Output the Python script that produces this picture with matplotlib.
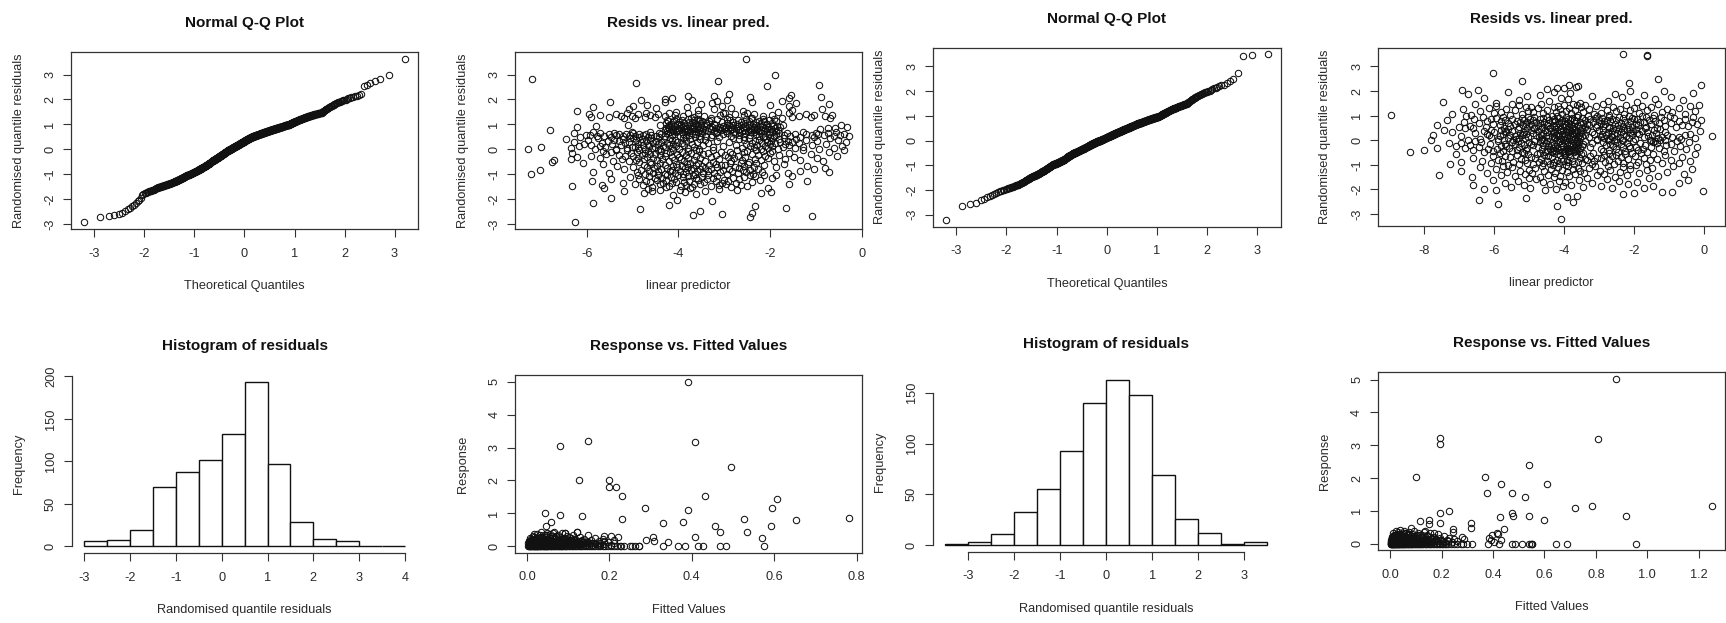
import matplotlib
matplotlib.use("Agg")
import matplotlib.pyplot as plt
from statistics import NormalDist

plt.rcParams['font.family'] = ['Liberation Sans', 'DejaVu Sans']
plt.rcParams['axes.unicode_minus'] = False

# ---------------------------------------------------------------- model A
# randomised quantile residuals (ordered by histogram class) and the matching linear predictor
resid_a = [
    # (-3, -2.5]
    -2.93, -2.70, -2.67, -2.63, -2.59, -2.54,
    # (-2.5, -2]
    -2.46, -2.41, -2.35, -2.28, -2.22, -2.16, -2.09, -2.03,
    # (-2, -1.5]
    -1.96, -1.84, -1.78, -1.75, -1.73, -1.71, -1.70, -1.68, -1.67, -1.65,
    -1.64, -1.62, -1.61, -1.59, -1.58, -1.56, -1.55, -1.53, -1.52,
    # (-1.5, -1]
    -1.50, -1.49, -1.49, -1.48, -1.47, -1.46, -1.46, -1.45, -1.44, -1.43,
    -1.43, -1.42, -1.41, -1.40, -1.40, -1.39, -1.38, -1.37, -1.37, -1.36,
    -1.35, -1.34, -1.34, -1.33, -1.32, -1.31, -1.31, -1.30, -1.29, -1.28,
    -1.28, -1.27, -1.26, -1.25, -1.25, -1.24, -1.23, -1.22, -1.22, -1.21,
    -1.20, -1.19, -1.19, -1.18, -1.17, -1.16, -1.16, -1.15, -1.14, -1.13,
    -1.13, -1.12, -1.11, -1.10, -1.10, -1.09, -1.08, -1.07, -1.07, -1.06,
    -1.05, -1.04, -1.04, -1.03, -1.03, -1.02, -1.02, -1.02, -1.01, -1.01,
    # (-1, -0.5]
    -1.00, -0.99, -0.99, -0.98, -0.98, -0.97, -0.97, -0.96, -0.96, -0.95,
    -0.94, -0.94, -0.93, -0.93, -0.92, -0.92, -0.91, -0.91, -0.90, -0.89,
    -0.89, -0.88, -0.88, -0.87, -0.87, -0.86, -0.86, -0.85, -0.85, -0.84,
    -0.83, -0.83, -0.82, -0.82, -0.81, -0.81, -0.80, -0.80, -0.79, -0.78,
    -0.78, -0.77, -0.77, -0.76, -0.76, -0.75, -0.75, -0.74, -0.74, -0.73,
    -0.72, -0.72, -0.71, -0.71, -0.70, -0.70, -0.69, -0.69, -0.68, -0.67,
    -0.67, -0.66, -0.66, -0.65, -0.65, -0.64, -0.64, -0.63, -0.63, -0.62,
    -0.61, -0.61, -0.60, -0.60, -0.59, -0.59, -0.58, -0.58, -0.57, -0.56,
    -0.56, -0.55, -0.55, -0.54, -0.53, -0.53, -0.52, -0.51,
    # (-0.5, 0]
    -0.50, -0.49, -0.49, -0.48, -0.48, -0.47, -0.47, -0.46, -0.46, -0.45,
    -0.45, -0.44, -0.44, -0.43, -0.43, -0.42, -0.42, -0.41, -0.41, -0.40,
    -0.40, -0.39, -0.39, -0.38, -0.38, -0.37, -0.37, -0.36, -0.36, -0.35,
    -0.35, -0.34, -0.34, -0.33, -0.33, -0.32, -0.32, -0.31, -0.31, -0.30,
    -0.30, -0.29, -0.29, -0.28, -0.28, -0.27, -0.27, -0.26, -0.26, -0.25,
    -0.25, -0.24, -0.24, -0.23, -0.23, -0.22, -0.22, -0.21, -0.21, -0.20,
    -0.20, -0.19, -0.19, -0.18, -0.18, -0.17, -0.17, -0.16, -0.16, -0.15,
    -0.15, -0.14, -0.14, -0.13, -0.13, -0.12, -0.12, -0.11, -0.11, -0.10,
    -0.10, -0.09, -0.09, -0.08, -0.08, -0.07, -0.07, -0.06, -0.06, -0.05,
    -0.05, -0.04, -0.04, -0.03, -0.03, -0.02, -0.02, -0.01, -0.01, -0.01,
    -0.01, -0.01,
    # (0, 0.5]
    0.00, 0.00, 0.01, 0.01, 0.01, 0.02, 0.02, 0.03, 0.03, 0.03,
    0.04, 0.04, 0.05, 0.05, 0.05, 0.06, 0.06, 0.06, 0.07, 0.07,
    0.08, 0.08, 0.08, 0.09, 0.09, 0.10, 0.10, 0.10, 0.11, 0.11,
    0.11, 0.12, 0.12, 0.13, 0.13, 0.13, 0.14, 0.14, 0.15, 0.15,
    0.15, 0.16, 0.16, 0.16, 0.17, 0.17, 0.18, 0.18, 0.18, 0.19,
    0.19, 0.19, 0.20, 0.20, 0.21, 0.21, 0.21, 0.22, 0.22, 0.23,
    0.23, 0.23, 0.24, 0.24, 0.24, 0.25, 0.25, 0.26, 0.26, 0.26,
    0.27, 0.27, 0.28, 0.28, 0.28, 0.29, 0.29, 0.29, 0.30, 0.30,
    0.31, 0.31, 0.31, 0.32, 0.32, 0.32, 0.33, 0.33, 0.34, 0.34,
    0.34, 0.35, 0.35, 0.36, 0.36, 0.36, 0.37, 0.37, 0.37, 0.38,
    0.38, 0.39, 0.39, 0.39, 0.40, 0.40, 0.41, 0.41, 0.41, 0.42,
    0.42, 0.42, 0.43, 0.43, 0.44, 0.44, 0.44, 0.45, 0.45, 0.46,
    0.46, 0.46, 0.47, 0.47, 0.47, 0.48, 0.48, 0.49, 0.49, 0.49,
    0.49, 0.49,
    # (0.5, 1]
    0.50, 0.50, 0.50, 0.51, 0.51, 0.51, 0.51, 0.52, 0.52, 0.52,
    0.52, 0.53, 0.53, 0.53, 0.53, 0.54, 0.54, 0.54, 0.54, 0.55,
    0.55, 0.55, 0.55, 0.56, 0.56, 0.56, 0.56, 0.57, 0.57, 0.57,
    0.57, 0.58, 0.58, 0.58, 0.58, 0.59, 0.59, 0.59, 0.59, 0.60,
    0.60, 0.60, 0.60, 0.61, 0.61, 0.61, 0.61, 0.62, 0.62, 0.62,
    0.62, 0.63, 0.63, 0.63, 0.63, 0.64, 0.64, 0.64, 0.64, 0.65,
    0.65, 0.65, 0.65, 0.66, 0.66, 0.66, 0.66, 0.67, 0.67, 0.67,
    0.67, 0.68, 0.68, 0.68, 0.68, 0.69, 0.69, 0.69, 0.69, 0.70,
    0.70, 0.70, 0.70, 0.71, 0.71, 0.71, 0.71, 0.72, 0.72, 0.72,
    0.72, 0.73, 0.73, 0.73, 0.73, 0.74, 0.74, 0.74, 0.74, 0.75,
    0.75, 0.75, 0.75, 0.76, 0.76, 0.76, 0.76, 0.77, 0.77, 0.77,
    0.77, 0.78, 0.78, 0.78, 0.78, 0.79, 0.79, 0.79, 0.79, 0.80,
    0.80, 0.80, 0.80, 0.81, 0.81, 0.81, 0.81, 0.82, 0.82, 0.82,
    0.82, 0.83, 0.83, 0.83, 0.83, 0.84, 0.84, 0.84, 0.84, 0.85,
    0.85, 0.85, 0.85, 0.86, 0.86, 0.86, 0.86, 0.87, 0.87, 0.87,
    0.87, 0.88, 0.88, 0.88, 0.88, 0.89, 0.89, 0.89, 0.89, 0.90,
    0.90, 0.90, 0.90, 0.91, 0.91, 0.91, 0.92, 0.92, 0.92, 0.93,
    0.93, 0.93, 0.94, 0.94, 0.94, 0.95, 0.95, 0.95, 0.96, 0.96,
    0.96, 0.97, 0.97, 0.97, 0.98, 0.98, 0.98, 0.99, 0.99, 0.99,
    0.99, 0.99, 0.99, 0.99,
    # (1, 1.5]
    1.00, 1.00, 1.01, 1.01, 1.02, 1.02, 1.03, 1.03, 1.04, 1.04,
    1.05, 1.05, 1.06, 1.06, 1.07, 1.07, 1.08, 1.08, 1.09, 1.09,
    1.10, 1.10, 1.11, 1.11, 1.12, 1.12, 1.13, 1.13, 1.14, 1.14,
    1.15, 1.15, 1.16, 1.16, 1.17, 1.17, 1.18, 1.18, 1.19, 1.19,
    1.20, 1.20, 1.21, 1.21, 1.22, 1.22, 1.23, 1.23, 1.24, 1.24,
    1.25, 1.25, 1.26, 1.26, 1.27, 1.27, 1.28, 1.28, 1.29, 1.29,
    1.30, 1.30, 1.31, 1.31, 1.32, 1.32, 1.33, 1.33, 1.34, 1.34,
    1.35, 1.35, 1.36, 1.36, 1.37, 1.37, 1.38, 1.38, 1.39, 1.39,
    1.40, 1.40, 1.41, 1.41, 1.42, 1.42, 1.43, 1.43, 1.44, 1.44,
    1.45, 1.45, 1.46, 1.46, 1.47, 1.47, 1.48,
    # (1.5, 2]
    1.51, 1.53, 1.54, 1.56, 1.58, 1.60, 1.61, 1.63, 1.65, 1.67,
    1.68, 1.70, 1.72, 1.74, 1.75, 1.77, 1.79, 1.81, 1.82, 1.84,
    1.86, 1.88, 1.89, 1.91, 1.93, 1.94, 1.96, 1.97, 1.99,
    # (2, 2.5]
    2.01, 2.04, 2.06, 2.08, 2.10, 2.12, 2.14, 2.17, 2.21,
    # (2.5, 3]
    2.54, 2.59, 2.66, 2.74, 2.82, 2.99,
    # (3.5, 4]
    3.64,
]

linpred_a = [
    -6.25, -2.43, -1.09, -3.68, -3.04, -2.40,
    -3.52, -4.83, -1.65, -2.33, -4.21, -5.87, -3.27, -4.02,
    -5.46, -4.12, -3.61, -2.19, -4.74, -3.85, -1.98, -4.58, -5.18, -3.43,
    -2.72, -4.40, -3.96, -3.12, -4.66, -2.05, -3.75, -5.63, -4.26,
    -3.71, -4.58, -2.86, -6.32, -3.95, -4.21, -2.51, -3.30, -4.77, -3.12,
    -5.66, -3.84, -2.63, -4.41, -3.54, -4.95, -2.97, -1.58, -3.66, -4.13,
    -4.33, -2.74, -3.05, -5.21, -3.88, -4.62, -2.40, -3.44, -4.05, -1.20,
    -3.19, -4.70, -2.92, -5.89, -3.77, -4.47, -2.22, -3.58, -4.27, -3.01,
    -2.69, -4.85, -3.38, -5.47, -4.10, -3.62, -1.97, -4.52, -3.25, -2.80,
    -4.36, -3.90, -2.57, -5.05, -3.48, -4.17, -1.52, -3.80, -4.65, -2.33,
    -3.15, -4.01, -2.45, -4.88, -3.69, -2.14, -4.44, -3.35, -1.88, -4.25,
    -3.64, -4.72, -2.38, -7.21, -3.91, -2.95, -4.30, -5.52, -3.22, -1.62,
    -4.08, -2.71, -3.47, -4.56, -0.72, -3.83, -2.52, -4.90, -3.10, -5.85,
    -2.18, -4.19, -3.59, -2.83, -4.63, -3.36, -1.35, -3.97, -4.44, -2.60,
    -7.02, -3.73, -2.44, -4.14, -3.02, -4.81, -2.26, -3.54, -1.05, -4.37,
    -3.28, -5.18, -2.90, -3.86, -4.53, -2.67, -3.42, -0.80, -4.24, -3.69,
    -2.35, -4.98, -3.15, -4.02, -1.88, -3.79, -4.68, -2.76, -5.33, -3.49,
    -4.11, -2.58, -3.93, -1.20, -4.47, -3.07, -2.99, -4.76, -3.61, -2.13,
    -4.29, -3.33, -5.64, -2.49, -3.81, -4.59, -1.71, -3.18, -4.05, -2.88,
    -3.57, -4.40, -2.31, -6.08, -3.75, -2.64, -4.86, -3.24,
    -4.62, -2.47, -6.75, -3.88, -5.08, -1.92, -4.21, -2.85, -0.85, -3.41,
    -5.43, -4.47, -2.19, -3.66, -6.70, -4.93, -2.62, -1.35, -4.09, -3.12,
    -5.22, -2.33, -4.74, -3.95, -1.68, -6.35, -4.35, -2.78, -3.52, -0.98,
    -4.56, -2.05, -5.71, -3.79, -4.87, -2.92, -1.49, -4.15, -3.28, -6.20,
    -2.54, -4.68, -3.99, -5.16, -2.11, -4.30, -0.55, -3.61, -4.99, -2.70,
    -5.90, -4.41, -3.17, -2.26, -4.80, -1.80, -3.84, -5.30, -2.98, -4.52,
    -1.12, -4.02, -2.40, -5.58, -3.46, -4.61, -2.84, -6.32, -3.72, -4.26,
    -2.01, -5.03, -3.35, -1.60, -4.72, -2.57, -3.93, -5.47, -4.18, -2.88,
    -3.08, -4.90, -0.72, -4.38, -2.16, -5.64, -3.55, -1.95, -4.66, -2.50,
    -3.80, -5.12, -1.28, -4.44, -2.73, -3.24, -4.85, -2.30, -0.40, -5.36,
    -3.62, -4.11,
    -4.72, -1.84, -5.35, -3.98, -7.28, -2.21, -4.40, -0.93, -5.81, -3.55,
    -2.05, -4.58, -1.46, -6.34, -4.15, -2.62, -5.12, -3.79, -0.61, -4.87,
    -1.73, -4.29, -5.59, -3.24, -2.36, -4.95, -7.00, -1.29, -4.51, -3.66,
    -5.02, -2.12, -4.06, -0.44, -5.71, -1.95, -4.63, -3.02, -6.17, -2.44,
    -4.34, -1.58, -5.26, -3.88, -2.29, -4.78, -1.10, -4.20, -5.90, -2.75,
    -3.47, -4.67, -1.67, -5.45, -2.01, -4.11, -0.78, -4.89, -3.71, -2.53,
    -6.05, -4.45, -1.89, -3.35, -5.17, -2.17, -4.55, -1.38, -3.93, -5.66,
    -2.40, -4.25, -0.35, -4.82, -1.78, -3.60, -5.08, -2.06, -4.38, -6.28,
    -1.52, -4.02, -2.90, -5.53, -4.70, -1.99, -3.15, -0.99, -4.48, -2.33,
    -5.29, -3.83, -1.62, -4.93, -2.58, -4.13, -5.98, -1.21, -3.42, -4.61,
    -2.25, -5.40, -0.52, -4.08, -1.81, -3.74, -4.80, -2.68, -5.20, -1.44,
    -4.32, -2.10, -6.45, -3.52, -4.99, -1.93, -0.70, -4.18, -2.82, -5.75,
    -3.90, -1.70, -4.60, -2.47, -5.05, -3.28, -1.05, -4.43, -2.15, -3.63,
    -4.85, -2.00,
    -5.47, -3.12, -1.35, -4.66, -2.58, -6.15, -3.84, -0.62, -4.94, -2.24,
    -3.55, -5.78, -1.92, -4.30, -0.29, -2.86, -5.21, -3.97, -1.56, -4.48,
    -2.12, -5.62, -3.40, -0.83, -4.77, -2.67, -6.02, -1.71, -3.76, -5.05,
    -1.08, -4.15, -2.43, -5.35, -3.26, -0.48, -4.59, -1.88, -5.93, -3.03,
    -4.38, -2.31, -1.22, -5.14, -3.63, -0.95, -4.85, -2.02, -5.52, -3.89,
    -1.47, -4.70, -2.77, -0.40, -5.29, -3.48, -1.64, -4.23, -6.28, -2.54,
    -3.71, -1.01, -4.99, -2.19, -5.70, -3.18, -0.75, -4.43, -1.80, -5.41,
    -2.95, -4.06, -0.56, -5.87, -2.36, -3.81, -1.29, -4.62, -2.69, -5.01,
    -3.92, -2.41, -3.15, -4.18, -2.03, -3.57, -2.79, -4.06, -2.25, -3.36,
    -1.87, -3.74, -2.62, -4.25, -2.96, -3.49, -2.14, -3.86, -1.95, -3.22,
    -4.11, -2.49, -3.63, -2.88, -4.02, -2.31, -3.41, -6.80, -2.70, -3.98,
    -2.19, -3.54, -4.30, -2.57, -3.07, -1.83, -3.79, -2.45, -4.14, -3.29,
    -2.08, -3.69, -0.91, -2.83, -4.21, -3.12, -2.36, -3.88, -1.99, -3.46,
    -2.66, -4.08, -3.01, -2.28, -3.60, -0.75, -2.92, -3.95, -2.12, -3.33,
    -4.27, -2.52, -3.71, -1.90, -3.18, -2.74, -4.00, -0.58, -2.42, -3.52,
    -3.83, -2.16, -6.20, -3.26, -2.60, -4.16, -1.78, -3.66, -2.97, -0.33,
    -3.10, -2.35, -3.91, -2.04, -4.23, -2.86, -3.44, -5.80, -2.55, -3.75,
    -1.94, -3.58, -2.71, -4.10, -3.03, -2.22, -3.85, -1.85, -3.38, -2.64,
    -4.20, -2.90, -3.68, -2.10, -3.95, -2.47, -3.21, -1.72, -5.10, -4.40,
    -0.46, -2.30, -3.50, -2.80,
    -3.95, -2.38, -3.22, -4.17, -2.06, -3.61, -2.73, -4.04, -3.40, -2.21,
    -3.87, -2.55, -4.28, -2.94, -3.50, -1.96, -3.77, -2.63, -4.12, -3.06,
    -2.30, -3.70, -2.82, -3.99, -2.13, -3.33, -4.22, -2.47, -3.56, -1.88,
    -3.48, -2.25, -4.10, -2.88, -3.66, -2.02, -3.92, -2.70, -3.30, -4.25,
    -2.52, -3.80, -2.16, -3.58, -4.05, -2.95, -3.15, -1.92, -3.72, -2.40,
    -1.75, -3.28, -4.95, -0.70, -5.18, -2.41, -4.50, -1.12, -3.66, -5.90,
    -2.90, -4.73, -1.53, -5.52, -3.45, -0.80, -4.30, -2.15, -5.00, -1.38,
    -3.90, -5.25, -2.58, -4.62, -1.05, -5.70, -3.10, -4.08, -1.95, -0.66,
    -4.88, -2.77, -5.36, -3.58, -1.22, -4.45, -2.35, -5.95, -3.02, -4.20,
    -1.60, -5.12, -2.98, -3.80, -4.70, -2.50, -1.83,
    -4.06, -6.20, -2.59, -3.57, -1.53, -5.08, -3.23, -0.87, -4.48, -2.85,
    -5.87, -3.82, -1.60, -4.98, -3.06, -2.00, -4.68, -3.50, -0.72, -3.27,
    -1.44, -5.50, -2.40, -4.30, -3.15, -1.75, -3.70, -4.82, -2.95,
    -4.30, -1.60, -4.15, -2.45, -0.90, -3.78, -3.22, -1.55, -2.90,
    -2.07, -0.94, -4.92, -3.13, -7.19, -1.89,
    -2.53,
]

hist_breaks_a = [-3.0, -2.5, -2.0, -1.5, -1.0, -0.5, 0.0, 0.5, 1.0, 1.5, 2.0, 2.5, 3.0, 3.5, 4.0]

fitted_a = [
    0.391, 0.079, 0.149, 0.407, 0.494, 0.125, 0.198, 0.198, 0.217, 0.231,
    0.431, 0.607, 0.595, 0.286, 0.391, 0.043, 0.081, 0.133, 0.231, 0.526,
    0.652, 0.782, 0.057, 0.046, 0.330, 0.379, 0.457, 0.468, 0.534, 0.593,
    0.571, 0.407, 0.305, 0.309, 0.288, 0.342, 0.122, 0.186, 0.204, 0.221,
    0.212, 0.092,
    0.002, 0.004, 0.005, 0.007, 0.008, 0.010, 0.011, 0.013, 0.014, 0.016,
    0.017, 0.019, 0.020, 0.022, 0.024, 0.025, 0.027, 0.029, 0.031, 0.032,
    0.034, 0.036, 0.038, 0.040, 0.042, 0.044, 0.046, 0.048, 0.050, 0.052,
    0.055, 0.057, 0.059, 0.062, 0.064, 0.067, 0.069, 0.072, 0.074, 0.077,
    0.080, 0.083, 0.086, 0.089, 0.092, 0.095, 0.098, 0.101, 0.105, 0.108,
    0.112, 0.116, 0.120, 0.124, 0.128, 0.132, 0.137, 0.141, 0.146, 0.151,
    0.156, 0.161, 0.166, 0.172, 0.178, 0.184, 0.190, 0.196, 0.203, 0.210,
    0.218, 0.226, 0.229, 0.236, 0.250, 0.255, 0.262, 0.271, 0.273, 0.330,
    0.366, 0.383, 0.414, 0.426, 0.468, 0.483, 0.576,
    0.005, 0.008, 0.010, 0.012, 0.015, 0.017, 0.019, 0.021, 0.023, 0.025,
    0.027, 0.029, 0.031, 0.033, 0.035, 0.036, 0.038, 0.040, 0.042, 0.044,
    0.046, 0.048, 0.050, 0.052, 0.055, 0.057, 0.059, 0.061, 0.064, 0.066,
    0.068, 0.070, 0.073, 0.075, 0.077, 0.080, 0.082, 0.085, 0.087, 0.090,
    0.092, 0.095, 0.098, 0.100, 0.103, 0.106, 0.109, 0.112, 0.115, 0.118,
    0.122, 0.125, 0.128, 0.132, 0.135, 0.139, 0.143, 0.147, 0.151, 0.155,
    0.160, 0.164, 0.169, 0.174, 0.178, 0.184, 0.190, 0.196, 0.203, 0.210,
    0.006, 0.009, 0.013, 0.016, 0.018, 0.020, 0.024, 0.028, 0.030, 0.034,
    0.037, 0.041, 0.045, 0.049, 0.053, 0.056, 0.060, 0.063, 0.067, 0.071,
    0.076, 0.079, 0.084, 0.088, 0.093, 0.097, 0.102, 0.108, 0.113, 0.119,
    0.126, 0.133, 0.141, 0.148, 0.157, 0.166, 0.176, 0.186,
    0.003, 0.006, 0.008, 0.011, 0.013, 0.015, 0.018, 0.020, 0.022, 0.024,
    0.026, 0.028, 0.030, 0.032, 0.034, 0.037, 0.039, 0.041, 0.043, 0.045,
    0.047, 0.049, 0.051, 0.054, 0.056, 0.058, 0.060, 0.063, 0.065, 0.068,
    0.070, 0.072, 0.075, 0.078, 0.081, 0.083, 0.086, 0.089, 0.091, 0.094,
    0.097, 0.100, 0.104, 0.107, 0.111, 0.114, 0.118, 0.121, 0.125, 0.129,
    0.004, 0.007, 0.010, 0.012, 0.014, 0.017, 0.019, 0.022, 0.025, 0.028,
    0.031, 0.033, 0.036, 0.039, 0.042, 0.044, 0.047, 0.050, 0.053, 0.056,
    0.059, 0.062, 0.066, 0.069, 0.073, 0.076, 0.080, 0.084, 0.088, 0.092,
    0.096, 0.101, 0.106, 0.111, 0.117, 0.123, 0.130, 0.137, 0.144, 0.152,
    0.009, 0.016, 0.023, 0.031, 0.038, 0.046, 0.054, 0.064, 0.074, 0.085,
]

response_a = [
    5.01, 3.04, 3.21, 3.18, 2.41, 2.02, 2.02, 1.80, 1.80, 1.54,
    1.54, 1.42, 1.15, 1.15, 1.10, 1.00, 0.95, 0.92, 0.83, 0.83,
    0.81, 0.87, 0.73, 0.60, 0.70, 0.74, 0.62, 0.43, 0.43, 0.61,
    0.26, 0.27, 0.29, 0.17, 0.19, 0.14, 0.44, 0.31, 0.31, 0.29,
    0.19, 0.39,
    0, 0, 0, 0, 0, 0, 0, 0, 0, 0,
    0, 0, 0, 0, 0, 0, 0, 0, 0, 0,
    0, 0, 0, 0, 0, 0, 0, 0, 0, 0,
    0, 0, 0, 0, 0, 0, 0, 0, 0, 0,
    0, 0, 0, 0, 0, 0, 0, 0, 0, 0,
    0, 0, 0, 0, 0, 0, 0, 0, 0, 0,
    0, 0, 0, 0, 0, 0, 0, 0, 0, 0,
    0, 0, 0, 0, 0, 0, 0, 0, 0, 0,
    0, 0, 0, 0, 0, 0, 0,
    0.05, 0.12, 0.22, 0.08, 0.30, 0.15, 0.04, 0.26, 0.10, 0.38,
    0.18, 0.06, 0.33, 0.13, 0.44, 0.24, 0.09, 0.35, 0.16, 0.05,
    0.28, 0.41, 0.11, 0.21, 0.36, 0.07, 0.17, 0.30, 0.12, 0.43,
    0.25, 0.04, 0.19, 0.34, 0.09, 0.27, 0.14, 0.40, 0.06, 0.22,
    0.39, 0.11, 0.31, 0.17, 0.05, 0.25, 0.13, 0.35, 0.08, 0.20,
    0.44, 0.10, 0.28, 0.15, 0.06, 0.23, 0.12, 0.33, 0.07, 0.19,
    0.10, 0.26, 0.05, 0.15, 0.09, 0.22, 0.06, 0.12, 0.04, 0.08,
    0.17, 0.03, 0.19, 0.36, 0.11, 0.07, 0.21, 0.14, 0.02, 0.29,
    0.03, 0.20, 0.13, 0.33, 0.03, 0.24, 0.14, 0.39, 0.08, 0.31,
    0.16, 0.03, 0.21, 0.12, 0.07, 0.16, 0.27, 0.03, 0.18, 0.12,
    0.04, 0.20, 0.08, 0.14, 0.03, 0.11, 0.04, 0.15,
    0.09, 0.16, 0.25, 0.06, 0.19, 0.12, 0.28, 0.03, 0.21, 0.14,
    0.07, 0.24, 0.11, 0.18, 0.29, 0.05, 0.15, 0.23, 0.09, 0.33,
    0.13, 0.20, 0.06, 0.27, 0.10, 0.17, 0.24, 0.04, 0.14, 0.21,
    0.30, 0.08, 0.16, 0.12, 0.23, 0.05, 0.18, 0.10, 0.26, 0.14,
    0.07, 0.20, 0.11, 0.16, 0.04, 0.22, 0.09, 0.13, 0.06, 0.10,
    0.03, 0.08, 0.14, 0.19, 0.04, 0.10, 0.22, 0.13, 0.07, 0.18,
    0.25, 0.10, 0.05, 0.15, 0.20, 0.08, 0.12, 0.17, 0.04, 0.11,
    0.19, 0.07, 0.14, 0.23, 0.09, 0.05, 0.16, 0.11, 0.20, 0.06,
    0.13, 0.09, 0.18, 0.05, 0.11, 0.15, 0.07, 0.12, 0.04, 0.09,
    0.02, 0.03, 0.01, 0.02, 0.03, 0.01, 0.02, 0.03, 0.02, 0.01,
]

# ---------------------------------------------------------------- model B
resid_b = [
    # (-3.5, -3]
    -3.22,
    # (-3, -2.5]
    -2.66, -2.58, -2.53,
    # (-2.5, -2]
    -2.42, -2.36, -2.30, -2.25, -2.20, -2.16, -2.12, -2.09, -2.06, -2.04, -2.01,
    # (-2, -1.5]
    -1.99, -1.97, -1.96, -1.94, -1.93, -1.91, -1.90, -1.88, -1.87, -1.85,
    -1.84, -1.82, -1.81, -1.79, -1.78, -1.76, -1.75, -1.73, -1.72, -1.70,
    -1.69, -1.67, -1.66, -1.64, -1.63, -1.61, -1.60, -1.58, -1.57, -1.55,
    -1.54, -1.52, -1.51,
    # (-1.5, -1]
    -1.50, -1.49, -1.48, -1.47, -1.46, -1.45, -1.44, -1.43, -1.43, -1.42,
    -1.41, -1.40, -1.39, -1.38, -1.37, -1.36, -1.35, -1.34, -1.34, -1.33,
    -1.32, -1.31, -1.30, -1.29, -1.28, -1.27, -1.26, -1.25, -1.25, -1.24,
    -1.23, -1.22, -1.21, -1.20, -1.19, -1.18, -1.17, -1.16, -1.16, -1.15,
    -1.14, -1.13, -1.12, -1.11, -1.10, -1.09, -1.08, -1.07, -1.07, -1.06,
    -1.05, -1.04, -1.03, -1.02, -1.01,
    # (-1, -0.5]
    -1.00, -0.99, -0.99, -0.98, -0.98, -0.97, -0.97, -0.96, -0.96, -0.95,
    -0.95, -0.94, -0.94, -0.93, -0.93, -0.92, -0.92, -0.91, -0.91, -0.90,
    -0.90, -0.89, -0.89, -0.88, -0.88, -0.87, -0.87, -0.86, -0.86, -0.85,
    -0.85, -0.84, -0.84, -0.83, -0.83, -0.82, -0.82, -0.81, -0.81, -0.80,
    -0.80, -0.79, -0.79, -0.78, -0.78, -0.77, -0.77, -0.76, -0.75, -0.74,
    -0.74, -0.73, -0.72, -0.72, -0.71, -0.70, -0.70, -0.69, -0.68, -0.68,
    -0.67, -0.66, -0.66, -0.65, -0.64, -0.64, -0.63, -0.62, -0.62, -0.61,
    -0.61, -0.60, -0.60, -0.59, -0.59, -0.58, -0.58, -0.57, -0.57, -0.56,
    -0.56, -0.55, -0.55, -0.54, -0.54, -0.53, -0.53, -0.52, -0.52, -0.51,
    -0.51, -0.51, -0.51,
    # (-0.5, 0]
    -0.50, -0.50, -0.49, -0.49, -0.49, -0.48, -0.48, -0.48, -0.47, -0.47,
    -0.46, -0.46, -0.46, -0.45, -0.45, -0.45, -0.44, -0.44, -0.43, -0.43,
    -0.43, -0.42, -0.42, -0.42, -0.41, -0.41, -0.40, -0.40, -0.40, -0.39,
    -0.39, -0.39, -0.38, -0.38, -0.37, -0.37, -0.37, -0.36, -0.36, -0.36,
    -0.35, -0.35, -0.34, -0.34, -0.34, -0.33, -0.33, -0.33, -0.32, -0.32,
    -0.31, -0.31, -0.31, -0.30, -0.30, -0.30, -0.29, -0.29, -0.28, -0.28,
    -0.28, -0.27, -0.27, -0.27, -0.26, -0.26, -0.25, -0.25, -0.25, -0.24,
    -0.24, -0.24, -0.23, -0.23, -0.22, -0.22, -0.22, -0.21, -0.21, -0.21,
    -0.20, -0.20, -0.19, -0.19, -0.19, -0.18, -0.18, -0.18, -0.17, -0.17,
    -0.16, -0.16, -0.16, -0.15, -0.15, -0.15, -0.14, -0.14, -0.13, -0.13,
    -0.13, -0.12, -0.12, -0.12, -0.11, -0.11, -0.10, -0.10, -0.10, -0.09,
    -0.09, -0.09, -0.08, -0.08, -0.07, -0.07, -0.07, -0.06, -0.06, -0.06,
    -0.05, -0.05, -0.04, -0.04, -0.04, -0.03, -0.03, -0.03, -0.02, -0.02,
    -0.02, -0.02, -0.01, -0.01, -0.01, -0.01, -0.01, -0.01, -0.01, -0.01,
    # (0, 0.5]
    0.00, 0.00, 0.00, 0.01, 0.01, 0.01, 0.02, 0.02, 0.02, 0.03,
    0.03, 0.03, 0.04, 0.04, 0.04, 0.04, 0.05, 0.05, 0.05, 0.06,
    0.06, 0.06, 0.07, 0.07, 0.07, 0.08, 0.08, 0.08, 0.08, 0.09,
    0.09, 0.09, 0.10, 0.10, 0.10, 0.11, 0.11, 0.11, 0.12, 0.12,
    0.12, 0.13, 0.13, 0.13, 0.13, 0.14, 0.14, 0.14, 0.15, 0.15,
    0.15, 0.16, 0.16, 0.16, 0.17, 0.17, 0.17, 0.17, 0.18, 0.18,
    0.18, 0.19, 0.19, 0.19, 0.20, 0.20, 0.20, 0.21, 0.21, 0.21,
    0.22, 0.22, 0.22, 0.22, 0.23, 0.23, 0.23, 0.24, 0.24, 0.24,
    0.25, 0.25, 0.25, 0.26, 0.26, 0.26, 0.26, 0.27, 0.27, 0.27,
    0.28, 0.28, 0.28, 0.29, 0.29, 0.29, 0.30, 0.30, 0.30, 0.30,
    0.31, 0.31, 0.31, 0.32, 0.32, 0.32, 0.33, 0.33, 0.33, 0.34,
    0.34, 0.34, 0.35, 0.35, 0.35, 0.35, 0.36, 0.36, 0.36, 0.37,
    0.37, 0.37, 0.38, 0.38, 0.38, 0.39, 0.39, 0.39, 0.39, 0.40,
    0.40, 0.40, 0.41, 0.41, 0.41, 0.42, 0.42, 0.42, 0.43, 0.43,
    0.43, 0.43, 0.44, 0.44, 0.44, 0.45, 0.45, 0.45, 0.46, 0.46,
    0.46, 0.47, 0.47, 0.47, 0.48, 0.48, 0.48, 0.48, 0.49, 0.49,
    0.49, 0.49, 0.49,
    # (0.5, 1]
    0.50, 0.50, 0.50, 0.51, 0.51, 0.51, 0.52, 0.52, 0.52, 0.53,
    0.53, 0.53, 0.54, 0.54, 0.54, 0.55, 0.55, 0.55, 0.56, 0.56,
    0.56, 0.57, 0.57, 0.57, 0.58, 0.58, 0.58, 0.59, 0.59, 0.59,
    0.60, 0.60, 0.60, 0.61, 0.61, 0.61, 0.62, 0.62, 0.62, 0.63,
    0.63, 0.63, 0.64, 0.64, 0.64, 0.65, 0.65, 0.65, 0.66, 0.66,
    0.66, 0.67, 0.67, 0.67, 0.68, 0.68, 0.68, 0.69, 0.69, 0.69,
    0.70, 0.70, 0.70, 0.71, 0.71, 0.71, 0.72, 0.72, 0.72, 0.73,
    0.73, 0.73, 0.74, 0.74, 0.74, 0.75, 0.75, 0.75, 0.76, 0.76,
    0.76, 0.77, 0.77, 0.77, 0.78, 0.78, 0.78, 0.79, 0.79, 0.79,
    0.80, 0.80, 0.80, 0.81, 0.81, 0.81, 0.82, 0.82, 0.82, 0.83,
    0.83, 0.83, 0.84, 0.84, 0.84, 0.85, 0.85, 0.85, 0.86, 0.86,
    0.86, 0.87, 0.87, 0.87, 0.88, 0.88, 0.88, 0.89, 0.89, 0.89,
    0.90, 0.90, 0.90, 0.91, 0.91, 0.91, 0.92, 0.92, 0.92, 0.93,
    0.93, 0.93, 0.94, 0.94, 0.94, 0.95, 0.95, 0.95, 0.96, 0.96,
    0.96, 0.97, 0.97, 0.97, 0.98, 0.98, 0.98, 0.99,
    # (1, 1.5]
    1.00, 1.01, 1.01, 1.02, 1.03, 1.03, 1.04, 1.05, 1.06, 1.06,
    1.07, 1.08, 1.08, 1.09, 1.10, 1.11, 1.11, 1.12, 1.13, 1.13,
    1.14, 1.15, 1.16, 1.16, 1.17, 1.18, 1.18, 1.19, 1.20, 1.21,
    1.21, 1.22, 1.23, 1.23, 1.24, 1.25, 1.26, 1.26, 1.27, 1.28,
    1.28, 1.29, 1.30, 1.31, 1.31, 1.32, 1.33, 1.33, 1.34, 1.35,
    1.36, 1.36, 1.37, 1.38, 1.38, 1.39, 1.40, 1.41, 1.41, 1.42,
    1.43, 1.43, 1.44, 1.45, 1.46, 1.46, 1.47, 1.48, 1.49,
    # (1.5, 2]
    1.51, 1.53, 1.55, 1.57, 1.59, 1.61, 1.63, 1.65, 1.67, 1.69,
    1.71, 1.73, 1.75, 1.77, 1.79, 1.81, 1.83, 1.85, 1.87, 1.89,
    1.91, 1.93, 1.95, 1.96, 1.98, 1.99,
    # (2, 2.5]
    2.02, 2.05, 2.08, 2.11, 2.14, 2.17, 2.20, 2.23, 2.26, 2.33, 2.42, 2.48,
    # (2.5, 3]
    2.75,
    # (3, 3.5]
    3.41, 3.45, 3.49,
]

linpred_b = [
    -4.09,
    -4.19, -5.88, -3.75,
    -6.44, -5.09, -3.92, -3.63, -2.30, -2.00, -1.21, -0.91, -0.02, -4.55, -5.95,
    -4.22, -6.30, -2.62, -4.98, -1.72, -3.45, -5.52, -4.03, -2.95, -1.45,
    -5.15, -3.80, -6.60, -2.18, -4.40, -0.70, -3.20, -5.70, -4.61, -1.90,
    -3.98, -2.42, -5.32, -4.15, -0.45, -3.58, -6.05, -2.78, -4.80, -1.58,
    -3.33, -5.00, -4.28,
    -4.70, -2.55, -6.64, -3.85, -5.40, -1.30, -4.12, -7.57, -3.05, -5.82,
    -2.20, -4.46, -0.58, -3.68, -5.12, -2.85, -4.93, -1.85, -6.20, -3.42,
    -4.25, -2.40, -5.63, -3.93, -1.05, -4.58, -2.98, -6.95, -3.55, -5.25,
    -1.62, -4.05, -2.68, -5.01, -3.75, -0.35, -4.38, -2.10, -5.95, -3.28,
    -4.82, -1.48, -3.60, -6.42, -2.32, -4.18, -5.48, -3.12, -0.88, -4.62,
    -2.75, -5.75, -3.88, -1.95, -4.33,
    -3.95, -5.62, -2.12, -4.41, -7.26, -3.20, -4.88, -1.65, -5.30, -3.71,
    -2.58, -4.15, -0.72, -6.10, -3.48, -4.60, -2.30, -5.05, -1.20, -3.88,
    -4.29, -6.95, -2.82, -3.60, -5.45, -1.88, -4.72, -3.15, -0.40, -5.78,
    -4.02, -2.45, -3.77, -6.35, -4.50, -1.55, -3.33, -5.12, -2.70, -4.20,
    -0.95, -3.92, -5.90, -2.18, -4.65, -3.40, -1.35, -5.22, -4.08, -2.95,
    -6.62, -3.55, -4.82, -1.72, -3.05, -5.55, -4.35, -2.38, -3.82, -0.62,
    -4.95, -2.62, -5.68, -3.25, -1.98, -4.45, -6.05, -3.65, -2.85, -4.12,
    -1.10, -5.35, -3.98, -2.50, -4.58, -7.11, -3.52, -1.45, -4.78, -2.25,
    -5.02, -3.85, -0.25, -4.30, -2.72, -5.85, -3.18, -1.80, -4.68, -3.45,
    -2.05, -5.15, -4.00,
    -4.05, -3.72, -5.20, -2.45, -4.35, -8.41, -1.62, -3.90, -6.30, -4.55,
    -3.65, -5.48, -2.88, -4.22, -0.85, -3.98, -1.15, -4.00, -6.05, -5.75,
    -3.80, -2.25, -4.48, -3.58, -8.00, -5.10, -1.88, -4.15, -2.70, -3.85,
    -6.62, -4.28, -3.70, -5.35, -0.50, -2.52, -4.08, -3.92, -1.75, -5.92,
    -4.40, -3.78, -6.18, -2.95, -4.62, -3.62, -5.58, -1.28, -4.20, -7.64,
    -3.55, -2.10, -4.32, -5.05, -3.88, -6.85, -1.95, -4.75, -0.20, -3.68,
    -5.28, -2.32, -4.10, -3.25, -6.45, -1.52, -4.45, -3.82, -5.65, -2.60,
    -4.25, -3.50, -7.11, -0.68, -5.82, -4.03, -2.15, -3.75, -1.08, -4.88,
    -6.70, -3.60, -5.15, -2.80, -4.38, -3.86, -1.68, -4.60, -5.42, -2.38,
    -3.45, -4.95, -6.12, -0.95, -3.93, -5.68, -2.68, -4.30, -1.35, -3.66,
    -4.07, -5.22, -2.20, -3.79, -6.95, -4.52, -1.82, -3.20, -7.30, -5.50,
    -2.48, -4.18, -3.57, -0.42, -5.00, -4.70, -1.45, -3.89, -6.38, -2.90,
    -4.12, -3.63, -5.88, -2.02, -4.48, -1.40, -3.40, -5.33, -0.78, -4.85,
    -2.58, -6.55, -3.05, -4.65, -1.12, -5.72, -2.30, -1.50, -2.75, -1.25,
    -3.98, -4.20, -5.45, -2.35, -7.81, -3.62, -1.55, -4.58, -6.76, -3.05,
    -4.10, -5.90, -2.72, -0.65, -3.80, -5.38, -1.98, -3.70, -6.40, -4.02,
    -2.50, -4.62, -3.55, -5.12, -0.24, -3.92, -1.30, -4.25, -2.85, -5.30,
    -3.85, -4.45, -2.15, -5.62, -3.68, -1.72, -0.72, -6.10, -0.90, -3.30,
    -4.30, -2.40, -2.62, -5.02, -4.72, -1.20, -3.60, -2.95, -5.40, -4.15,
    0.24, -3.75, -4.52, -2.22, -5.85, -3.48, -1.60, -4.00, -6.95, -2.65,
    -4.35, -3.82, -1.05, -5.20, -6.15, -2.80, -3.58, -0.55, -4.80, -7.76,
    -3.40, -2.05, -4.65, -5.55, -3.90, -1.48, -4.22, -2.58, -6.22, -3.72,
    -4.05, -1.85, -5.08, -3.15, -5.18, -2.30, -0.38, -3.98, -5.75, -2.92,
    -4.28, -3.65, -1.38, -4.90, -2.48, -6.55, -3.78, -5.25, -1.90, -4.18,
    -3.52, -2.10, -4.60, -7.20, -3.88, -5.65, -2.75, -4.32, -1.62, -3.20,
    -4.48, -6.00, -2.38, -3.95, -5.15, -1.12, -4.08, -3.45, -2.02, -4.75,
    -5.48, -3.62, -0.12, -5.70, -2.62, -3.80, -6.30, -1.78, -4.38, -3.00,
    -2.28, -4.95, -3.70, -5.80, -1.42, -4.02, -2.88, -3.55, -4.55, -7.45,
    -6.08, -3.85, -2.15, -4.25, -5.32, -1.95, -3.35, -4.65, -2.52, -3.92,
    -4.12, -1.25, -5.60, -2.20, -2.70, -4.40, -6.62, -3.78, -1.68, -4.85,
    -2.42, -5.05, -6.85,
    -4.40, -2.60, -5.72, -3.50, -1.35, -4.85, -7.02, -3.10, -2.05, -4.18,
    -5.30, -0.80, -3.85, -2.72, -4.62, -6.25, -1.65, -3.40, -5.00, -2.30,
    -4.05, -3.72, -0.45, -5.55, -2.90, -4.30, -1.10, -3.60, -6.70, -4.75,
    -2.45, -3.95, -5.18, -1.88, -4.50, -7.63, -3.28, -2.18, -5.85, -0.62,
    -4.22, -3.05, -1.50, -5.40, -3.80, -2.82, -4.95, -6.05, -1.95, -4.00,
    -3.35, -0.20, -5.10, -2.55, -4.68, -3.70, -1.28, -6.45, -4.15, -2.38,
    -5.62, -3.45, -0.95, -4.45, -2.95, -3.90, -5.25, -1.72, -4.80, -6.88,
    -2.25, -4.10, -3.55, -0.35, -5.05, -3.18, -1.82, -4.58, -2.68, -5.80,
    -3.98, -1.40, -4.35, -6.20, -2.85, -3.65, -5.35, -0.72, -4.25, -2.12,
    -4.90, -3.00, -1.58, -5.68, -3.82, -2.50, -4.42, -7.35, -1.15, -3.40,
    -5.15, -2.78, -4.05, -0.08, -3.72, -6.10, -2.00, -4.70, -3.25, -1.90,
    -5.48, -4.30, -2.62, -3.88, -0.55, -4.98, -6.58, -2.32, -3.50, -1.45,
    -4.60, -5.95, -3.12, -2.05, -4.15, -0.85, -3.78, -5.20, -2.92, -1.65,
    -4.50, -3.62, -6.32, -2.42, -5.02, -1.22, -3.95, -0.30, -4.85, -2.70,
    -5.75, -3.32, -1.78, -4.20, -2.15, -6.80, -3.05, -0.98,
    -4.35, -8.97, -2.70, -5.55, -3.60, -1.42, -6.68, -4.05, -0.55, -3.15,
    -5.20, -2.28, -7.22, -4.60, -1.85, -3.80, -6.00, -2.95, -4.90, -0.90,
    -3.45, -5.80, -1.20, -4.22, -2.50, -6.40, -3.95, -0.25, -5.02, -2.10,
    -4.48, -1.62, -3.70, -5.40, -2.78, -6.90, -4.12, -1.05, -3.30, -5.65,
    -2.40, -4.75, -0.70, -3.85, -6.15, -2.00, -4.30, -5.10, -1.50, -3.52,
    -4.95, -2.60, -0.40, -5.95, -3.10, -4.18, -1.78, -3.62, -5.30, -2.22,
    -4.00, -0.15, -3.40, -6.55, -1.30, -4.65, -2.88, -5.48, -3.75,
    -5.95, -3.55, -7.47, -1.90, -4.42, -2.75, -0.60, -5.30, -3.90, -1.40,
    -6.30, -4.10, -2.35, -0.95, -5.05, -3.20, -1.70, -4.70, -6.75, -2.55,
    -3.82, -0.30, -5.60, -4.28, -2.10, -1.15,
    -6.93, -6.47, -4.50, -4.19, -4.00, -3.66, -3.59, -3.85, -0.09, -2.15, -5.20, -1.30,
    -6.05,
    -1.63, -1.62, -2.30,
]

hist_breaks_b = [-3.5, -3.0, -2.5, -2.0, -1.5, -1.0, -0.5, 0.0, 0.5, 1.0, 1.5, 2.0, 2.5, 3.0, 3.5]

fitted_b = [
    0.877, 0.195, 0.193, 0.807, 0.540, 0.101, 0.370, 0.431, 0.612, 0.378,
    0.473, 0.524, 0.720, 0.785, 1.252, 0.917, 0.193, 0.231, 0.115, 0.150,
    0.150, 0.193, 0.428, 0.473, 0.476, 0.539, 0.597, 0.443, 0.314, 0.315,
    0.414, 0.243, 0.244, 0.279, 0.288, 0.385, 0.392, 0.398, 0.405, 0.420,
    0.430, 0.080, 0.135, 0.170,
    0.002, 0.003, 0.005, 0.006, 0.008, 0.009, 0.011, 0.012, 0.014, 0.016,
    0.017, 0.019, 0.021, 0.023, 0.024, 0.026, 0.028, 0.030, 0.032, 0.034,
    0.036, 0.038, 0.040, 0.042, 0.045, 0.047, 0.049, 0.052, 0.054, 0.057,
    0.059, 0.062, 0.065, 0.068, 0.071, 0.074, 0.077, 0.080, 0.083, 0.087,
    0.090, 0.094, 0.097, 0.101, 0.105, 0.109, 0.113, 0.117, 0.121, 0.126,
    0.130, 0.135, 0.140, 0.145, 0.150, 0.155, 0.160, 0.166, 0.171, 0.177,
    0.183, 0.189, 0.195, 0.201, 0.207, 0.213, 0.219, 0.225, 0.238, 0.250,
    0.262, 0.275, 0.285, 0.299, 0.318, 0.380, 0.425, 0.473, 0.486, 0.513,
    0.542, 0.546, 0.550, 0.553, 0.644, 0.689, 0.955,
    0.004, 0.007, 0.009, 0.011, 0.014, 0.016, 0.018, 0.020, 0.022, 0.025,
    0.027, 0.029, 0.031, 0.034, 0.036, 0.038, 0.040, 0.043, 0.045, 0.047,
    0.050, 0.052, 0.055, 0.058, 0.060, 0.063, 0.066, 0.069, 0.072, 0.075,
    0.078, 0.082, 0.085, 0.088, 0.092, 0.096, 0.100, 0.104, 0.108, 0.112,
    0.117, 0.122, 0.127, 0.132, 0.138, 0.144, 0.150, 0.156, 0.163, 0.170,
    0.177, 0.185, 0.193, 0.201, 0.210, 0.220, 0.230, 0.240, 0.250, 0.262,
    0.006, 0.010, 0.013, 0.017, 0.021, 0.024, 0.028, 0.032, 0.035, 0.039,
    0.042, 0.046, 0.049, 0.053, 0.057, 0.061, 0.065, 0.070, 0.074, 0.079,
    0.084, 0.090, 0.095, 0.102, 0.110, 0.118, 0.126, 0.135, 0.145, 0.155,
    0.166, 0.178, 0.190, 0.205,
    0.003, 0.005, 0.008, 0.010, 0.012, 0.015, 0.017, 0.019, 0.021, 0.023,
    0.026, 0.028, 0.030, 0.033, 0.035, 0.037, 0.039, 0.042, 0.044, 0.046,
    0.048, 0.051, 0.053, 0.056, 0.058, 0.061, 0.064, 0.067, 0.070, 0.073,
    0.076, 0.079, 0.082, 0.086, 0.089, 0.093, 0.097, 0.101, 0.106, 0.110,
    0.115, 0.120, 0.125, 0.130, 0.136, 0.142, 0.148, 0.155, 0.162, 0.170,
    0.004, 0.007, 0.009, 0.013, 0.016, 0.019, 0.022, 0.025, 0.029, 0.032,
    0.036, 0.040, 0.043, 0.047, 0.051, 0.055, 0.059, 0.063, 0.068, 0.072,
    0.077, 0.082, 0.087, 0.093, 0.099, 0.105, 0.112, 0.119, 0.127, 0.135,
    0.144, 0.153, 0.163, 0.174, 0.186, 0.199, 0.212, 0.226, 0.008, 0.014,
    0.020, 0.027, 0.034, 0.041, 0.049, 0.057, 0.066, 0.076, 0.087, 0.099,
]

response_b = [
    5.02, 3.21, 3.04, 3.19, 2.41, 2.03, 2.03, 1.81, 1.81, 1.55,
    1.55, 1.43, 1.10, 1.15, 1.15, 0.85, 0.95, 1.00, 0.70, 0.73,
    0.60, 0.62, 0.80, 0.93, 0.85, 0.83, 0.73, 0.44, 0.62, 0.47,
    0.33, 0.45, 0.35, 0.20, 0.15, 0.18, 0.10, 0.25, 0.05, 0.30,
    0.12, 0.48, 0.40, 0.33,
    0, 0, 0, 0, 0, 0, 0, 0, 0, 0,
    0, 0, 0, 0, 0, 0, 0, 0, 0, 0,
    0, 0, 0, 0, 0, 0, 0, 0, 0, 0,
    0, 0, 0, 0, 0, 0, 0, 0, 0, 0,
    0, 0, 0, 0, 0, 0, 0, 0, 0, 0,
    0, 0, 0, 0, 0, 0, 0, 0, 0, 0,
    0, 0, 0, 0, 0, 0, 0, 0, 0, 0,
    0, 0, 0, 0, 0, 0, 0, 0, 0, 0,
    0, 0, 0, 0, 0, 0, 0,
    0.06, 0.20, 0.11, 0.32, 0.04, 0.15, 0.27, 0.09, 0.38, 0.13,
    0.22, 0.05, 0.35, 0.17, 0.29, 0.08, 0.42, 0.12, 0.24, 0.06,
    0.31, 0.14, 0.39, 0.09, 0.21, 0.33, 0.05, 0.26, 0.12, 0.37,
    0.18, 0.07, 0.30, 0.14, 0.40, 0.10, 0.23, 0.05, 0.34, 0.16,
    0.28, 0.08, 0.19, 0.36, 0.11, 0.25, 0.06, 0.32, 0.14, 0.21,
    0.09, 0.30, 0.17, 0.07, 0.24, 0.12, 0.18, 0.05, 0.15, 0.08,
    0.13, 0.03, 0.24, 0.08, 0.16, 0.03, 0.28, 0.10, 0.04, 0.19,
    0.07, 0.25, 0.03, 0.13, 0.20, 0.05, 0.11, 0.29, 0.03, 0.16,
    0.06, 0.22, 0.10, 0.03, 0.17, 0.07, 0.26, 0.04, 0.12, 0.20,
    0.05, 0.10, 0.03, 0.08,
    0.12, 0.05, 0.21, 0.15, 0.08, 0.27, 0.03, 0.18, 0.11, 0.24,
    0.06, 0.30, 0.14, 0.09, 0.20, 0.04, 0.26, 0.13, 0.17, 0.07,
    0.23, 0.10, 0.32, 0.05, 0.16, 0.21, 0.08, 0.13, 0.28, 0.04,
    0.18, 0.11, 0.24, 0.07, 0.15, 0.20, 0.05, 0.12, 0.26, 0.09,
    0.16, 0.04, 0.19, 0.11, 0.07, 0.22, 0.13, 0.05, 0.17, 0.09,
    0.02, 0.09, 0.16, 0.04, 0.12, 0.22, 0.07, 0.14, 0.03, 0.19,
    0.10, 0.05, 0.17, 0.12, 0.24, 0.06, 0.14, 0.09, 0.20, 0.03,
    0.11, 0.16, 0.06, 0.13, 0.04, 0.18, 0.09, 0.12, 0.05, 0.15,
    0.08, 0.11, 0.04, 0.14, 0.07, 0.10, 0.05, 0.08, 0.02, 0.03,
    0.01, 0.02, 0.03, 0.01, 0.02, 0.03, 0.02, 0.01, 0.02, 0.03,
]

assert len(resid_a) == len(linpred_a), (len(resid_a), len(linpred_a))
assert len(resid_b) == len(linpred_b), (len(resid_b), len(linpred_b))
assert len(fitted_a) == len(response_a), (len(fitted_a), len(response_a))
assert len(fitted_b) == len(response_b), (len(fitted_b), len(response_b))

# ---------------------------------------------------------------- layout helpers
W, H = 1726, 623
fig = plt.figure(figsize=(W / 100, H / 100), dpi=100)
fig.patch.set_facecolor('white')

INK = '#111111'
GREY = '#2a2a2a'
BASE = 9.2


def px_axes(x0, y0, x1, y1):
    return fig.add_axes([x0 / W, 1 - y1 / H, (x1 - x0) / W, (y1 - y0) / H])


def r_lim(v):
    lo, hi = min(v), max(v)
    d = 0.04 * (hi - lo)
    return lo - d, hi + d


def ppoints(n):
    a = 0.5 if n > 10 else 3 / 8
    return [(i + 1 - a) / (n + 1 - 2 * a) for i in range(n)]


def style_axes(ax, box=True):
    for s in ax.spines.values():
        s.set_linewidth(0.9)
        s.set_color('#333333')
        s.set_visible(box)
    ax.tick_params(direction='out', length=6, width=0.8, color='#333333',
                   labelsize=BASE, labelcolor=GREY)
    ax.tick_params(axis='x', pad=7.5)
    ax.tick_params(axis='y', pad=4.5)
    for t in ax.get_yticklabels():
        t.set_rotation(90)
        t.set_va('center')


def annotate(box, title, xlabel, ylabel):
    x0, y0, x1, y1 = box
    cx = (x0 + x1) / 2
    fig.text(cx / W, 1 - (y0 - 30.5 + 5.5) / H, title, ha='center', va='baseline',
             fontsize=11, fontweight='bold', color=INK)
    fig.text(cx / W, 1 - (y1 + 55.5 + 4.6) / H, xlabel, ha='center', va='baseline',
             fontsize=BASE, color=GREY)
    fig.text((x0 - 54 + 4.6) / W, 1 - ((y0 + y1) / 2) / H, ylabel, ha='center',
             va='baseline', rotation=90, rotation_mode='anchor', fontsize=BASE, color=GREY)


def rings(ax, x, y):
    ax.plot(x, y, linestyle='none', marker='o', markersize=4.6, markerfacecolor='none',
            markeredgecolor=INK, markeredgewidth=0.75)


def qq_panel(box, resid, yticks):
    ax = px_axes(*box)
    ys = sorted(resid)
    nd = NormalDist()
    xs = [nd.inv_cdf(p) for p in ppoints(len(ys))]
    rings(ax, xs, ys)
    ax.set_xlim(*r_lim(xs))
    ax.set_ylim(*r_lim(ys))
    ax.set_xticks([-3, -2, -1, 0, 1, 2, 3])
    ax.set_yticks(yticks)
    style_axes(ax)
    annotate(box, 'Normal Q-Q Plot', 'Theoretical Quantiles', 'Randomised quantile residuals')


def resid_panel(box, lp, resid, xticks, yticks):
    ax = px_axes(*box)
    rings(ax, lp, resid)
    ax.set_xlim(*r_lim(lp))
    ax.set_ylim(*r_lim(resid))
    ax.set_xticks(xticks)
    ax.set_yticks(yticks)
    style_axes(ax)
    annotate(box, 'Resids vs. linear pred.', 'linear predictor', 'Randomised quantile residuals')


def hist_panel(box, resid, breaks, yticks):
    ax = px_axes(*box)
    counts, _, _ = ax.hist(resid, bins=breaks, facecolor='white', edgecolor=INK,
                           linewidth=1.0)
    ax.set_xlim(*r_lim(breaks))
    ax.set_ylim(*r_lim([0, max(counts)]))
    xt = [b for b in breaks if float(b).is_integer()]
    ax.set_xticks(xt)
    ax.set_yticks(yticks)
    style_axes(ax, box=False)
    ax.spines['left'].set_visible(True)
    ax.spines['bottom'].set_visible(True)
    ax.spines['left'].set_bounds(yticks[0], yticks[-1])
    ax.spines['bottom'].set_bounds(xt[0], xt[-1])
    annotate(box, 'Histogram of residuals', 'Randomised quantile residuals', 'Frequency')


def response_panel(box, fitted, response, xticks):
    ax = px_axes(*box)
    rings(ax, fitted, response)
    ax.set_xlim(*r_lim(fitted))
    ax.set_ylim(*r_lim(response))
    ax.set_xticks(xticks)
    ax.set_xticklabels([f'{t:.1f}' for t in xticks])
    ax.set_yticks([0, 1, 2, 3, 4, 5])
    style_axes(ax)
    annotate(box, 'Response vs. Fitted Values', 'Fitted Values', 'Response')


# ---------------------------------------------------------------- panels (pixel boxes)
qq_panel((71, 52, 418, 229), resid_a, [-3, -2, -1, 0, 1, 2, 3])
resid_panel((515, 52, 862, 229), linpred_a, resid_a, [-6, -4, -2, 0], [-3, -2, -1, 0, 1, 2, 3])
hist_panel((71.5, 375, 417.8, 553), resid_a, hist_breaks_a, [0, 50, 100, 150, 200])
response_panel((515, 375, 862, 552.7), fitted_a, response_a, [0.0, 0.2, 0.4, 0.6, 0.8])

qq_panel((932.7, 47.7, 1281, 226.7), resid_b, [-3, -2, -1, 0, 1, 2, 3])
resid_panel((1377.7, 47.7, 1725, 226), linpred_b, resid_b, [-8, -6, -4, -2, 0], [-3, -2, -1, 0, 1, 2, 3])
hist_panel((932.5, 373, 1279.8, 551.6), resid_b, hist_breaks_b, [0, 50, 100, 150])
response_panel((1377.7, 372.3, 1725, 550.3), fitted_b, response_b, [0.0, 0.2, 0.4, 0.6, 0.8, 1.0, 1.2])

fig.savefig('out.png', dpi=100, facecolor='white')
